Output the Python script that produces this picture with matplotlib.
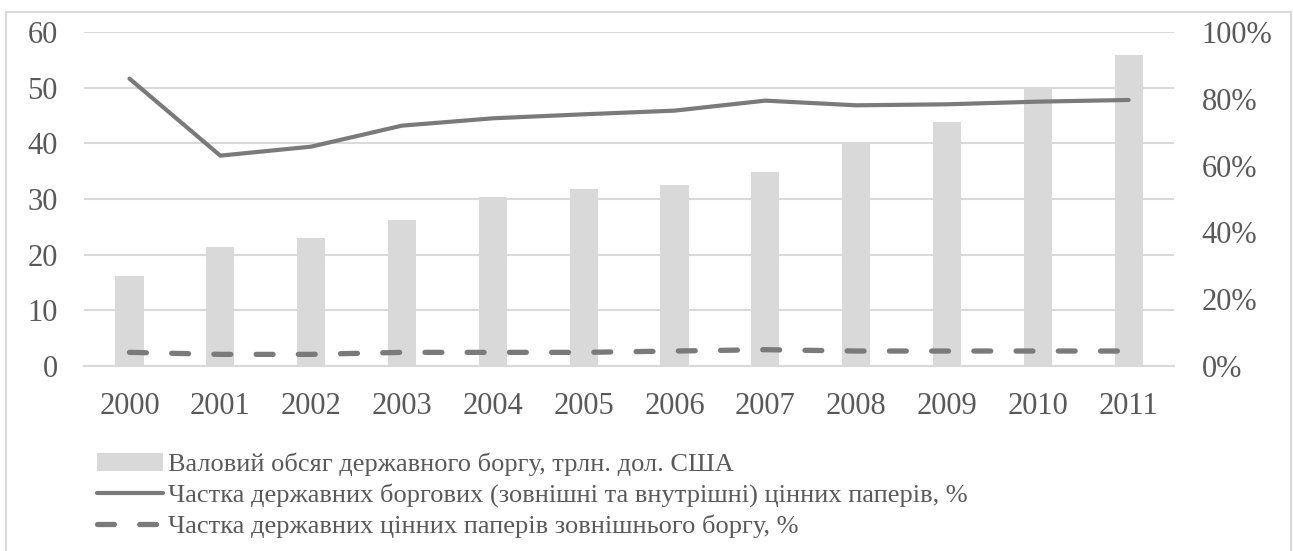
import matplotlib.pyplot as plt
from matplotlib.patches import Rectangle
from matplotlib.ticker import PercentFormatter
import numpy as np

years = ['2000', '2001', '2002', '2003', '2004', '2005',
         '2006', '2007', '2008', '2009', '2010', '2011']
# валовий обсяг державного боргу, трлн. дол. США
gross_debt = [16.1, 21.4, 23.0, 26.3, 30.4, 31.8, 32.5, 34.8, 39.9, 43.8, 50.1, 56.0]
# частка державних боргових цінних паперів, %
debt_securities_share = [86.1, 63.0, 65.7, 72.0, 74.2, 75.4, 76.5, 79.5, 78.1, 78.4, 79.2, 79.7]
# частка цінних паперів зовнішнього боргу, %
external_share = [4.0, 3.4, 3.4, 4.0, 4.0, 4.0, 4.4, 4.8, 4.4, 4.4, 4.4, 4.4]

labels = ['Валовий обсяг державного боргу, трлн. дол. США',
          'Частка державних боргових (зовнішні та внутрішні) цінних паперів, %',
          'Частка державних цінних паперів зовнішнього боргу, %']

plt.rcParams['font.family'] = ['Liberation Serif', 'DejaVu Serif']
text_col = '#595959'
bar_col = '#d9d9d9'
line_col = '#7a7a7a'

fig = plt.figure(figsize=(12.93, 5.51), dpi=100)
ax = fig.add_axes([0.0650, 0.3363, 0.8430, 0.6051])
ax2 = ax.twinx()

x = np.arange(len(years))
bars = ax.bar(x, gross_debt, width=0.31, color=bar_col, zorder=2)
ax.set_xlim(-0.5, len(years) - 0.5)
ax.set_ylim(0, 60)
ax.set_yticks(range(0, 61, 10))
ax.grid(axis='y', color=bar_col, linewidth=1.5, zorder=0)
ax.set_axisbelow(True)
ax.set_xticks(x)
ax.set_xticklabels(years)

l1, = ax2.plot(x, debt_securities_share, color=line_col, linewidth=3.0,
               solid_capstyle='round', solid_joinstyle='round')
l2, = ax2.plot(x, external_share, color=line_col, linewidth=3.8,
               dashes=[3.2, 4.8], dash_capstyle='round')
ax2.set_ylim(0, 100)
ax2.set_yticks(range(0, 101, 20))
ax2.yaxis.set_major_formatter(PercentFormatter(decimals=0))

for a in (ax, ax2):
    for s in a.spines.values():
        s.set_visible(False)
ax.spines['bottom'].set_visible(True)
ax.spines['bottom'].set_color(bar_col)
ax.spines['bottom'].set_linewidth(1.5)

ax.tick_params(axis='both', length=0, labelsize=22, labelcolor=text_col)
ax.tick_params(axis='y', pad=19)
ax.tick_params(axis='x', pad=19)
ax2.tick_params(axis='y', length=0, labelsize=22, labelcolor=text_col, pad=20)

fig.legend([bars, l1, l2], labels, loc='upper left',
           bbox_to_anchor=(0.075, 0.178), frameon=False, fontsize=19,
           labelcolor=text_col, handlelength=2.5, handletextpad=0.2,
           labelspacing=0.27, borderpad=0, borderaxespad=0)

fig.patches.append(Rectangle((6 / 1293, -0.01), 1 - 8 / 1293, 1 - 12 / 551 + 0.01,
                             transform=fig.transFigure, fill=False,
                             edgecolor=bar_col, linewidth=1.5))

plt.savefig('out.png', dpi=100)
